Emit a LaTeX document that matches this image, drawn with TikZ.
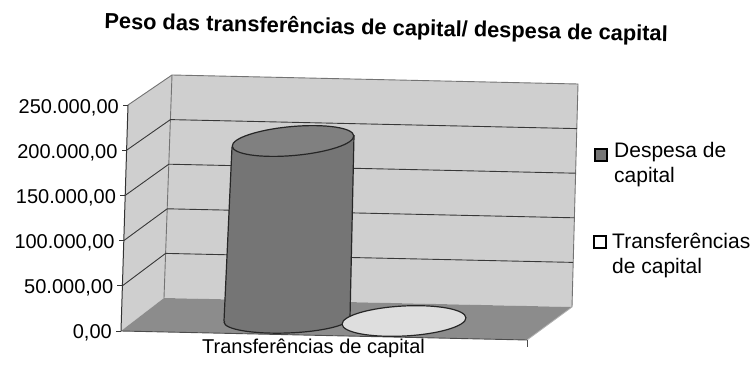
\documentclass[tikz,border=0pt]{standalone}
\usepackage{fontspec}
\setmainfont{Liberation Sans}
\usetikzlibrary{calc}
\definecolor{wallcol}{gray}{0.81}
\definecolor{floorcol}{gray}{0.55}
\definecolor{cylcol}{gray}{0.46}
\definecolor{cyltop}{gray}{0.50}
\definecolor{flatcol}{gray}{0.87}
\definecolor{edgecol}{gray}{0.45}
\definecolor{gridcol}{gray}{0.22}
\begin{document}
\begin{tikzpicture}[x=1pt,y=-1pt,
  lbl/.style={font=\fontsize{20}{24}\selectfont, inner sep=0pt},
  ticklbl/.style={lbl, anchor=base east},
  leg/.style={font=\fontsize{21}{25}\selectfont, inner sep=0pt, anchor=base west, align=left},
  legbox/.style={draw=black, line width=1.2pt, minimum size=12pt, inner sep=0pt},
  gridline/.style={draw=gridcol, line width=0.9pt},
  walledge/.style={draw=edgecol, line width=0.9pt},
  outl/.style={draw=black!85, line width=1.2pt}]
\useasboundingbox (0,0) rectangle (755,369);
% key points
\coordinate (A0) at (121,331);
\coordinate (A5) at (128,105);
\coordinate (B0) at (164,298);
\coordinate (B5) at (172,75);
\coordinate (C0) at (572,307);
\coordinate (C5) at (578,84);
\coordinate (D0) at (527,340);
\foreach \i in {1,2,3,4}{
  \coordinate (A\i) at ($(A0)!\i/5!(A5)$);
  \coordinate (B\i) at ($(B0)!\i/5!(B5)$);
  \coordinate (C\i) at ($(C0)!\i/5!(C5)$);
}
% walls and floor
\fill[wallcol] (A0) -- (A5) -- (B5) -- (B0) -- cycle;
\fill[wallcol] (B0) -- (B5) -- (C5) -- (C0) -- cycle;
\fill[floorcol] (A0) -- (B0) -- (C0) -- (D0) -- cycle;
\draw[walledge] (A5) -- (B5) -- (C5) -- (C0);
\draw[walledge] (B5) -- (B0);
\draw[draw=gray!60, line width=0.8pt] (C0) -- (D0);
\foreach \i in {1,2,3,4}{
  \draw[gridline] (A\i) -- (B\i) -- (C\i);
}
% axes
\draw[draw=black!80, line width=1pt] (A0) -- (A5);
\draw[draw=black!70, line width=0.9pt] (A0) -- (D0);
\foreach \i in {0,...,5}{
  \draw[draw=black!80, line width=0.9pt] (A\i) -- ++(-5,0);
}
\draw[draw=black!70, line width=0.9pt] (D0) -- ++(0,7);
% tick labels
\node[ticklbl] (t5) at ($(A5)+(-9,8)$) {250.000,00};
\node[ticklbl] (t4) at ($(A4)+(-9,8)$) {200.000,00};
\node[ticklbl] (t3) at ($(A3)+(-9,8)$) {150.000,00};
\node[ticklbl] (t2) at ($(A2)+(-9,8)$) {100.000,00};
\node[ticklbl] (t1) at ($(A1)+(-9,8)$) {50.000,00};
\node[ticklbl] (t0) at ($(A0)+(-9,7)$) {0,00};
% cylinder
\fill[cylcol, rotate around={2:(287,320)}] (287,320) ellipse [x radius=63pt, y radius=13pt];
\draw[outl, rotate around={2:(287,320)}] (287,320) ellipse [x radius=63pt, y radius=13pt];
\fill[cylcol] (232,147) -- (224,321) -- (350,318) -- (354,135) -- cycle;
\draw[outl] (232,147) -- (224,321);
\draw[outl] (354,135) -- (350,318);
\fill[cyltop, rotate around={5:(293,141)}] (293,141) ellipse [x radius=61pt, y radius=14.5pt];
\draw[outl, rotate around={5:(293,141)}] (293,141) ellipse [x radius=61pt, y radius=14.5pt];
% flat ellipse
\fill[flatcol, rotate around={3:(404,321)}] (404,321) ellipse [x radius=62pt, y radius=15pt];
\draw[outl, rotate around={3:(404,321)}] (404,321) ellipse [x radius=62pt, y radius=15pt];
% title
\node[font=\fontsize{21.8}{26}\selectfont\bfseries, inner sep=0pt, anchor=base, rotate=-1.3] (title) at (386,35) {Peso das transferências de capital/ despesa de capital};
% category label
\node[lbl, anchor=base west] (cat) at (202,353) {Transferências de capital};
% legend
\node[legbox, fill=cylcol] (lb1) at (601,155) {};
\node[leg] (lt1) at (614,182) {Despesa de\\capital};
\node[legbox, fill=white] (lb2) at (600,242) {};
\node[leg] (lt2) at (612,273) {Transferências\\de capital};
\end{tikzpicture}
\end{document}
